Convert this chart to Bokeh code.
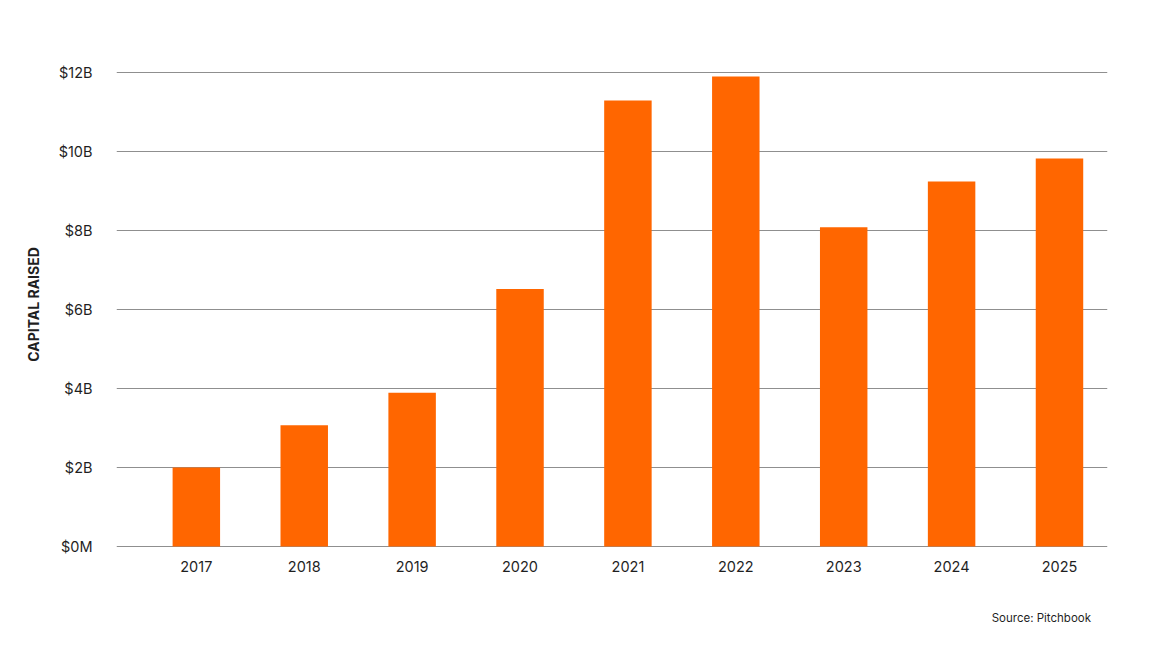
from bokeh.plotting import figure
from bokeh.models import ColumnDataSource, FixedTicker, Range1d, Div
from bokeh.layouts import column
from bokeh.embed import file_html
from bokeh.resources import INLINE

# data (billions of USD)
years = [2017, 2018, 2019, 2020, 2021, 2022, 2023, 2024, 2025]
capital = [2.0, 3.07, 3.89, 6.52, 11.29, 11.9, 8.08, 9.24, 9.82]
y_ticks = [0, 2, 4, 6, 8, 10, 12]
y_tick_labels = ["$0M", "$2B", "$4B", "$6B", "$8B", "$10B", "$12B"]
source_note = "Source: Pitchbook"

FONT = "Inter"
TEXT = "#1f1f1f"
ORANGE = "#FF6600"

src = ColumnDataSource(data=dict(year=years, capital=capital))

p = figure(width=1136, height=600, output_backend="svg", toolbar_location=None,
           x_range=Range1d(2016.26, 2025.445), y_range=Range1d(-0.1, 12.354),
           min_border_left=116, min_border_right=29, min_border_top=58,
           min_border_bottom=50, tools="", margin=0)
p.outline_line_color = None
p.background_fill_color = "white"
p.border_fill_color = "white"

p.vbar(x="year", top="capital", bottom=0, width=0.44, source=src,
       fill_color=ORANGE, line_color=None)

# x axis
p.xaxis.ticker = FixedTicker(ticks=years)
p.xaxis.major_label_overrides = {y: str(y) for y in years}
p.xaxis.axis_line_color = None
p.xaxis.major_tick_line_color = None
p.xaxis.minor_tick_line_color = None
p.xaxis.major_label_text_font = FONT
p.xaxis.major_label_text_font_size = "14.5px"
p.xaxis.major_label_text_color = TEXT
p.xaxis.major_label_standoff = 4
p.xgrid.grid_line_color = None

# y axis
p.yaxis.ticker = FixedTicker(ticks=y_ticks)
p.yaxis.major_label_overrides = dict(zip(y_ticks, y_tick_labels))
p.yaxis.axis_line_color = None
p.yaxis.major_tick_line_color = None
p.yaxis.minor_tick_line_color = None
p.yaxis.major_label_text_font = FONT
p.yaxis.major_label_text_font_size = "14.5px"
p.yaxis.major_label_text_color = TEXT
p.yaxis.major_label_standoff = 18
p.yaxis.axis_label = "CAPITAL RAISED"
p.yaxis.axis_label_text_font = FONT
p.yaxis.axis_label_text_font_size = "14px"
p.yaxis.axis_label_text_font_style = "bold"
p.yaxis.axis_label_text_color = TEXT
p.yaxis.axis_label_standoff = 14
p.ygrid.ticker = FixedTicker(ticks=y_ticks)
p.ygrid.grid_line_color = "#8f8f8f"
p.ygrid.grid_line_width = 1.2

note = Div(text=source_note, width=1091, height=32, margin=0,
           styles={"text-align": "right", "font-family": FONT,
                   "font-size": "11.5px", "color": TEXT, "line-height": "36px"})

layout = column(p, note)

open("out.html", "w").write(file_html(layout, INLINE))
